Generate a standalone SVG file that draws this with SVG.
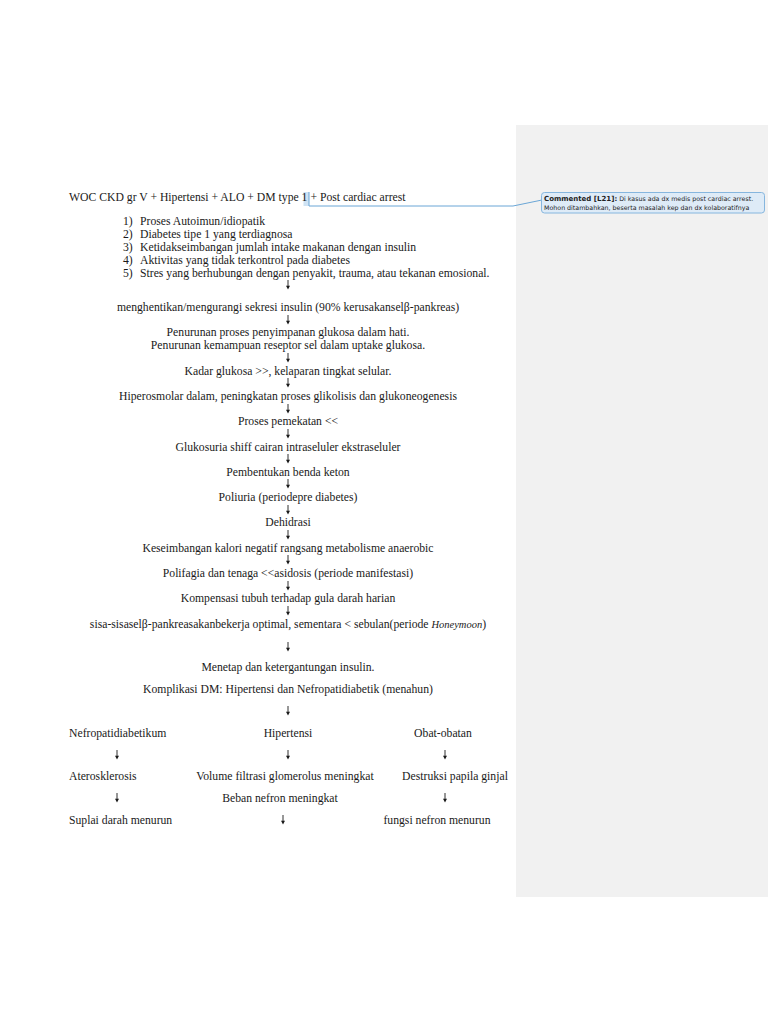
<svg xmlns="http://www.w3.org/2000/svg" width="768" height="1024" viewBox="0 0 768 1024">
<style>
  .t { font-family: "Liberation Serif", "Times New Roman", serif; font-size: 11.7px; fill: #1a1a1a; }
  .c { text-anchor: middle; }
  .cm { font-family: "DejaVu Sans", "Liberation Sans", sans-serif; font-size: 6.3px; fill: #222; }
  .cmb { font-weight: bold; font-size: 7px; }
</style>
<defs>
  <symbol id="arr" viewBox="-4 -6 8 12" width="8" height="12" overflow="visible">
    <path d="M0,-5 V2.5" stroke="#1a1a1a" stroke-width="0.9" fill="none"/>
    <path d="M-2,0.8 L2,0.8 L0,4.6 Z" fill="#1a1a1a"/>
  </symbol>
</defs>
<rect width="768" height="1024" fill="#ffffff"/>
<rect id="comment-pane" x="516" y="125" width="252" height="772" fill="#f1f1f1"/>

<g id="connectors">
  <use href="#arr" x="284" y="279"/>
  <use href="#arr" x="284" y="314"/>
  <use href="#arr" x="284" y="352"/>
  <use href="#arr" x="284" y="377"/>
  <use href="#arr" x="284" y="403"/>
  <use href="#arr" x="284" y="428"/>
  <use href="#arr" x="284" y="453"/>
  <use href="#arr" x="284" y="478"/>
  <use href="#arr" x="284" y="504"/>
  <use href="#arr" x="284" y="529"/>
  <use href="#arr" x="284" y="554"/>
  <use href="#arr" x="284" y="580"/>
  <use href="#arr" x="284" y="605"/>
  <use href="#arr" x="284" y="641"/>
  <use href="#arr" x="284" y="705"/>
  <use href="#arr" x="113" y="749"/>
  <use href="#arr" x="284" y="749"/>
  <use href="#arr" x="441" y="749"/>
  <use href="#arr" x="113" y="792"/>
  <use href="#arr" x="441" y="792"/>
  <use href="#arr" x="279" y="814"/>
  <path id="comment-link" d="M309,206 H513 L542,200" stroke="#6aa6d6" stroke-width="1" fill="none"/>
</g>

<g id="title">
  <rect x="303.5" y="192" width="5.5" height="14" fill="#cfe3f4"/>
  <text class="t" x="69" y="201">WOC CKD gr V + Hipertensi + ALO + DM type 1 + Post cardiac arrest</text>
  <line x1="309" y1="192" x2="309" y2="206" stroke="#6aa6d6" stroke-width="1"/>
</g>

<g id="comment">
  <rect x="541.5" y="192.5" width="223" height="20.5" rx="3" fill="#deebf7" stroke="#86b6de" stroke-width="1"/>
  <text class="cm" x="544" y="201"><tspan class="cmb">Commented [L21]:</tspan> Di kasus ada dx medis post cardiac arrest.</text>
  <text class="cm" x="544" y="209.5">Mohon ditambahkan, beserta masalah kep dan dx kolaboratifnya</text>
</g>

<g id="causes">
  <text class="t" x="123" y="225">1)</text><text class="t" x="140" y="225">Proses Autoimun/idiopatik</text>
  <text class="t" x="123" y="238">2)</text><text class="t" x="140" y="238">Diabetes tipe 1 yang terdiagnosa</text>
  <text class="t" x="123" y="251">3)</text><text class="t" x="140" y="251">Ketidakseimbangan jumlah intake makanan dengan insulin</text>
  <text class="t" x="123" y="264">4)</text><text class="t" x="140" y="264">Aktivitas yang tidak terkontrol pada diabetes</text>
  <text class="t" x="123" y="277">5)</text><text class="t" x="140" y="277">Stres yang berhubungan dengan penyakit, trauma, atau tekanan emosional.</text>
</g>

<g id="n1"><text class="t c" x="288" y="311">menghentikan/mengurangi sekresi insulin (90% kerusakanselβ-pankreas)</text></g>
<g id="n2">
  <text class="t c" x="288" y="336">Penurunan proses penyimpanan glukosa dalam hati.</text>
  <text class="t c" x="288" y="349">Penurunan kemampuan reseptor sel dalam uptake glukosa.</text>
</g>
<g id="n3"><text class="t c" x="288" y="375">Kadar glukosa &gt;&gt;, kelaparan tingkat selular.</text></g>
<g id="n4"><text class="t c" x="288" y="400">Hiperosmolar dalam, peningkatan proses glikolisis dan glukoneogenesis</text></g>
<g id="n5"><text class="t c" x="288" y="425">Proses pemekatan &lt;&lt;</text></g>
<g id="n6"><text class="t c" x="288" y="451">Glukosuria shiff cairan intraseluler ekstraseluler</text></g>
<g id="n7"><text class="t c" x="288" y="476">Pembentukan benda keton</text></g>
<g id="n8"><text class="t c" x="288" y="501">Poliuria (periodepre diabetes)</text></g>
<g id="n9"><text class="t c" x="288" y="526">Dehidrasi</text></g>
<g id="n10"><text class="t c" x="288" y="552">Keseimbangan kalori negatif rangsang metabolisme anaerobic</text></g>
<g id="n11"><text class="t c" x="288" y="577">Polifagia dan tenaga &lt;&lt;asidosis (periode manifestasi)</text></g>
<g id="n12"><text class="t c" x="288" y="602">Kompensasi tubuh terhadap gula darah harian</text></g>
<g id="n13"><text class="t c" x="288" y="628">sisa-sisaselβ-pankreasakanbekerja optimal, sementara &lt; sebulan(periode <tspan font-style="italic" font-size="10.5">Honeymoon</tspan>)</text></g>
<g id="n14"><text class="t c" x="288" y="671">Menetap dan ketergantungan insulin.</text></g>
<g id="n15"><text class="t c" x="288" y="693">Komplikasi DM: Hipertensi dan Nefropatidiabetik (menahun)</text></g>

<g id="col1">
  <text class="t" x="69" y="737">Nefropatidiabetikum</text>
  <text class="t" x="69" y="780">Aterosklerosis</text>
  <text class="t" x="69" y="824">Suplai darah menurun</text>
</g>
<g id="col2">
  <text class="t c" x="288" y="737">Hipertensi</text>
  <text class="t c" x="285" y="780">Volume filtrasi glomerolus meningkat</text>
  <text class="t c" x="280" y="802">Beban nefron meningkat</text>
</g>
<g id="col3">
  <text class="t c" x="443" y="737">Obat-obatan</text>
  <text class="t c" x="455" y="780">Destruksi papila ginjal</text>
  <text class="t c" x="437" y="824">fungsi nefron menurun</text>
</g>
</svg>
